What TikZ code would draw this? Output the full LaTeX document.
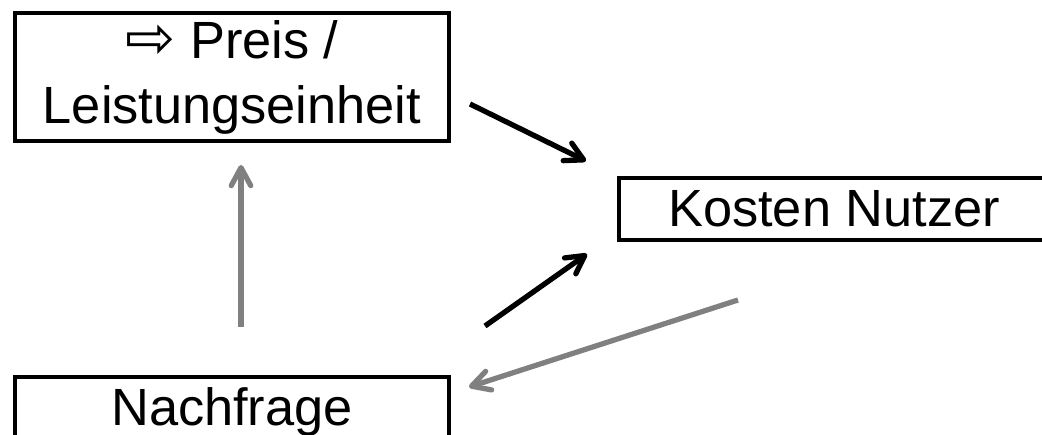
\documentclass[tikz,border=0pt]{standalone}
\usepackage{fontspec}
\setmainfont{Liberation Sans}
\newfontfamily\symfont{DejaVu Sans}
\usetikzlibrary{arrows.meta}

\definecolor{pfeilgrau}{RGB}{128,128,128}
\tikzset{
    kasten/.style={draw, line width=2.5pt, inner sep=0pt, align=center,
        font=\fontsize{29.8}{37}\selectfont},
    pfeil/.style={line width=3pt, -{Straight Barb[length=3.6mm, width=3.9mm, round]}},
}

\begin{document}
\begin{tikzpicture}[x=0.02cm, y=-0.02cm]
    \useasboundingbox (0,0) rectangle (1042,435);

    \node[kasten, minimum width=8.68cm, minimum height=2.56cm] (preis) at (232,77)
        {{\symfont\fontsize{34}{34}\selectfont ⇨} Preis /\\Leistungseinheit};
    \node[kasten, minimum width=8.6cm, minimum height=1.24cm] (kosten) at (834,209) {Kosten Nutzer};
    \node[kasten, minimum width=8.68cm, minimum height=1.4cm] (nachfrage) at (232,412) {Nachfrage};

    % Pfeile
    \coordinate (P1) at (470,104);
    \coordinate (P2) at (586,161);
    \coordinate (N1) at (485,326);
    \coordinate (N2) at (587,254);
    \coordinate (K1) at (738,300);
    \coordinate (K2) at (469,387);
    \coordinate (V1) at (241,327);
    \coordinate (V2) at (241,165);

    \draw[pfeil] (P1) -- (P2);
    \draw[pfeil] (N1) -- (N2);
    \draw[pfeil, pfeilgrau] (K1) -- (K2);
    \draw[pfeil, pfeilgrau] (V1) -- (V2);
\end{tikzpicture}
\end{document}
